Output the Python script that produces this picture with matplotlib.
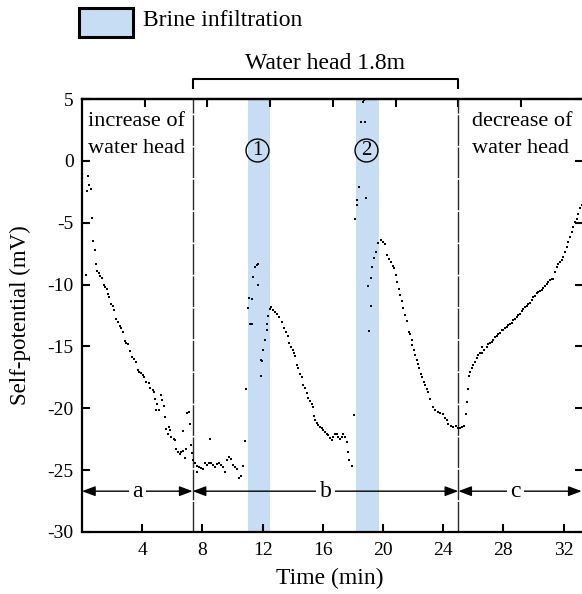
import matplotlib
matplotlib.use("Agg")
import matplotlib.pyplot as plt
from matplotlib.patches import Rectangle
import matplotlib.transforms as mtransforms

plt.rcParams['font.family'] = ['Liberation Serif', 'DejaVu Serif']
plt.rcParams['axes.unicode_minus'] = False

# ---------------- data ----------------
# stage a: increase of water head
a_t = [0.33, 0.40, 0.49, 0.58, 0.66, 0.27, 0.75, 0.84, 0.91, 1.00, 1.11, 1.22, 1.31, 1.44, 1.55,
       1.68, 1.75, 1.82, 1.95, 2.06, 2.15, 2.28, 2.39, 2.50, 2.61, 2.72, 2.83, 2.94, 3.06, 3.21,
       3.34, 3.46, 3.59, 3.70, 3.81, 3.92, 4.05, 4.14, 4.27, 4.43, 4.52, 4.70, 4.76, 4.85, 4.98,
       4.92, 5.10, 5.27, 5.32, 5.43, 5.49, 5.58, 5.76, 5.83, 5.69, 5.93, 6.09, 6.16, 6.27, 6.38,
       6.49, 6.60, 6.71, 6.82, 6.91, 6.73, 7.00, 7.09, 7.15, 7.24, 7.31]
a_v = [-2.45, -1.24, -1.94, -2.31, -4.60, -9.20, -6.47, -7.20, -8.35, -8.90, -9.10, -9.30, -9.43, -10.07, -10.19,
       -10.35, -10.78, -11.04, -11.58, -11.77, -12.07, -12.82, -13.06, -13.31, -13.55, -13.85, -14.58, -14.71, -14.84, -15.36,
       -15.84, -16.03, -16.22, -16.92, -17.03, -17.14, -17.27, -17.46, -17.84, -17.95, -18.38, -18.54, -18.72, -19.24, -19.69,
       -20.10, -20.15, -18.92, -19.35, -19.83, -20.70, -21.70, -21.50, -21.77, -22.09, -22.31, -22.52, -22.58, -23.28, -23.52,
       -23.71, -23.55, -23.44, -24.00, -23.28, -21.83, -20.42, -20.32, -21.26, -23.00, -23.60]

# stage b: constant water head 1.8 m (with two brine infiltrations)
b_t = [7.40, 7.49, 7.62, 7.75, 7.89, 8.02, 7.66, 8.15, 8.29, 8.42, 8.55, 8.68, 8.82, 8.95, 9.08,
       9.22, 9.35, 9.48, 9.61, 9.75, 9.88, 10.01, 10.15, 10.28, 10.41, 10.55, 10.68, 8.50, 10.81,
       10.90, 11.01, 11.16, 11.27, 11.11, 11.28, 11.38, 11.51, 11.60, 11.67, 11.71, 11.87, 11.98, 11.91, 12.04,
       12.18, 12.27, 12.31, 12.38, 12.49, 12.58, 12.71, 12.84, 12.98, 13.11, 13.27, 13.42, 13.55, 13.69,
       13.77, 13.89, 14.00, 14.09, 14.17, 14.27, 14.37, 14.49, 14.60, 14.70, 14.82, 14.93, 15.04, 15.15,
       15.26, 15.33, 15.42, 15.50, 15.59, 15.70, 15.81, 15.93, 16.03, 16.15, 16.26, 16.37, 16.48, 16.59,
       16.70, 16.81, 16.92, 17.03, 17.14, 17.25, 17.36, 17.48, 17.59, 17.67, 17.76, 17.92,
       18.10, 18.14, 18.25, 18.29, 18.43, 18.87, 18.57, 18.79, 18.65, 18.74, 19.09, 19.18, 19.03, 19.20,
       19.29, 19.40, 19.53, 19.69, 19.85, 19.98, 20.11, 20.24, 20.38, 20.51, 20.64, 20.75, 20.86, 20.95,
       21.04, 21.13, 21.24, 21.35, 21.46, 21.57,
       21.73, 21.80, 21.91, 21.95, 22.04, 22.13, 22.24, 22.31, 22.39, 22.53, 22.62, 22.70, 22.79, 22.90,
       23.02, 23.13, 23.35, 23.46, 23.64, 23.79, 24.01, 24.12, 24.23, 24.34, 24.52, 24.68, 24.83, 24.96]
b_v = [-24.20, -24.46, -24.68, -24.74, -24.79, -24.87, -25.14, -24.46, -24.60, -24.46, -24.41, -24.60, -24.74, -24.52, -24.41,
       -24.60, -24.74, -25.14, -24.20, -23.93, -24.06, -24.60, -24.74, -24.87, -25.67, -25.49, -24.68, -22.52, -22.64,
       -18.48, -11.93, -13.20, -13.20, -11.12, -11.20, -9.38, -8.57, -8.41, -8.35, -10.05, -16.11, -16.19, -17.40, -15.25,
       -14.50, -13.69, -13.15, -12.55, -12.01, -11.80, -12.07, -12.23, -12.39, -12.61, -13.02, -13.47, -13.82, -14.17,
       -14.76, -15.04, -15.30, -15.57, -15.79, -16.52, -16.78, -17.19, -17.51, -18.13, -18.40, -18.80, -19.13, -19.40,
       -19.67, -19.89, -20.64, -20.96, -21.17, -21.37, -21.50, -21.63, -21.77, -21.91, -22.04, -22.17, -22.44, -22.58,
       -22.31, -22.09, -22.04, -22.36, -22.52, -22.31, -22.09, -22.31, -22.71, -23.52, -24.20, -24.68,
       -20.58, -4.71, -3.58, -3.18, -2.10, -3.04, 3.15, 3.18, 4.72, 4.90, -13.77, -11.72, -10.10, -9.46,
       -8.57, -7.89, -7.36, -6.68, -6.41, -6.55, -6.76, -7.57, -7.95, -8.16, -8.49, -8.65, -9.24, -9.78,
       -10.32, -10.86, -11.34, -11.93, -12.47, -12.96,
       -13.82, -14.01, -14.50, -14.90, -15.31, -15.71, -16.12, -16.39, -16.71, -17.19, -17.46, -17.87, -18.14, -18.41,
       -18.68, -19.21, -19.89, -20.16, -20.29, -20.37, -20.43, -20.75, -20.97, -21.24, -21.45, -21.51, -21.42, -21.56]

# stage c: decrease of water head
c_t = [25.12, 25.27, 25.41, 25.50, 25.56, 25.63, 25.71, 25.80, 25.89, 26.00, 26.11, 26.23, 26.33, 26.45, 26.56,
       26.60, 26.73, 26.88, 26.99, 27.11, 27.22, 27.33, 27.44, 27.55, 27.66, 27.77, 27.88, 27.99, 28.10, 28.21,
       28.32, 28.43, 28.55, 28.66, 28.77, 28.88, 28.99, 29.10, 29.21, 29.32, 29.43, 29.54, 29.65, 29.76, 29.87,
       29.99, 30.10, 30.21, 30.32, 30.43, 30.54, 30.65, 30.76, 30.87, 30.98, 31.09, 31.20, 31.31, 31.43, 31.54,
       31.65, 31.76, 31.87, 31.98, 32.09, 32.20, 32.31, 32.42, 32.53, 32.64, 32.75, 32.86, 32.97, 33.09, 33.20]
c_v = [-21.59, -21.51, -21.40, -20.43, -19.48, -18.41, -17.40, -17.06, -16.78, -16.52, -16.25, -15.97, -15.71, -15.52, -15.04,
       -15.57, -15.31, -15.04, -14.82, -14.71, -14.63, -14.44, -14.23, -14.17, -14.01, -13.90, -13.69, -13.64, -13.47, -13.42,
       -13.28, -13.15, -13.10, -12.88, -12.75, -12.61, -12.48, -12.34, -12.13, -11.94, -11.80, -11.75, -11.59, -11.48, -11.26,
       -10.99, -10.94, -10.72, -10.59, -10.51, -10.40, -10.27, -10.13, -9.97, -9.78, -9.65, -9.59, -9.51, -8.97, -8.62,
       -8.35, -8.16, -8.03, -7.76, -7.36, -6.95, -6.55, -6.14, -5.74, -5.33, -4.93, -4.66, -4.26, -3.85, -3.58]

brine_bands = [(11.0, 12.5), (18.2, 19.7)]
brine_marks = ['1', '2']
stage_bounds = [0.0, 7.35, 25.0, 33.2]
stage_names = ['a', 'b', 'c']
x_ticks = [4, 8, 12, 16, 20, 24, 28, 32]
y_ticks = [-30, -25, -20, -15, -10, -5, 0, 5]
top_ticks_sec = [250, 500, 750, 1000, 1250, 1500, 1750, 2000]

# ---------------- figure ----------------
W, H = 582, 594
fig = plt.figure(figsize=(W / 100, H / 100), dpi=100)
ax = fig.add_axes([82 / W, 62 / H, 501.2 / W, 433 / H])
ax.set_xlim(0, 33.3)
ax.set_ylim(-30, 5)

band_color = '#c6ddf4'
for (x0, x1) in brine_bands:
    ax.axvspan(x0, x1, color=band_color, lw=0, zorder=0)

for xv in stage_bounds[1:3]:
    ax.axvline(xv, color='#2a2a2a', lw=1.0, dashes=(22, 1.2), zorder=1)

ms = 1.7
for t, v in [(a_t, a_v), (b_t, b_v), (c_t, c_v)]:
    ax.plot(t, v, 's', ms=ms, color='k', mew=0, zorder=3)

# stage arrows
arrow_y = -26.7
for i, name in enumerate(stage_names):
    x0, x1 = stage_bounds[i], stage_bounds[i + 1]
    ax.annotate('', xy=(x1, arrow_y), xytext=(x0, arrow_y),
                arrowprops=dict(arrowstyle='<|-|>,head_length=0.8,head_width=0.3',
                                color='k', lw=1.0, shrinkA=0, shrinkB=0), zorder=4)
    ax.text((x0 + x1) / 2 - (0.3 if name == 'c' else 0.0), arrow_y, name, ha='center', va='center', fontsize=17,
            bbox=dict(boxstyle='square,pad=0.15', fc='white', ec='none'), zorder=5)

# circled marks
for (x0, x1), m in zip(brine_bands, brine_marks):
    xc = (x0 + x1) / 2 + (-0.1 if m == '1' else -0.05)
    ax.plot([xc], [0.87], 'o', ms=16.5, mfc='none', mec='k', mew=1.0, zorder=4)
    ax.text(xc, 0.87, m, ha='center', va='center', fontsize=15, zorder=5)

# stage texts
ax.text(0.40, 2.81, 'increase of', fontsize=16, ha='left', va='baseline')
ax.text(0.40, 0.62, 'water head', fontsize=16, ha='left', va='baseline')
ax.text(25.9, 2.81, 'decrease of', fontsize=16, ha='left', va='baseline')
ax.text(25.9, 0.62, 'water head', fontsize=16, ha='left', va='baseline')

# top bracket
trans = mtransforms.blended_transform_factory(ax.transData, ax.transAxes)
ax.plot([stage_bounds[1], stage_bounds[1], stage_bounds[2], stage_bounds[2]],
        [1.025, 1.046, 1.046, 1.025], color='k', lw=1.5, transform=trans, clip_on=False)
ax.text((stage_bounds[1] + stage_bounds[2]) / 2, 1.083, 'Water head 1.8m', fontsize=17,
        ha='center', va='center', transform=trans)

# ticks
ax.set_xticks(x_ticks)
ax.set_yticks(y_ticks)
ax.tick_params(axis='both', direction='in', length=6, width=1.5, labelsize=14)
ax.tick_params(axis='y', right=True, pad=6)
ax.tick_params(axis='x', pad=7)
for s in ['left', 'bottom', 'top']:
    ax.spines[s].set_linewidth(1.6)
ax.spines['right'].set_visible(False)
sec = ax.secondary_xaxis('top', functions=(lambda m: m * 60, lambda s: s / 60))
sec.set_xticks(top_ticks_sec)
sec.set_xticklabels([])
sec.tick_params(direction='in', length=6, width=1.5)
sec.spines['top'].set_linewidth(1.6)

# axis labels
fig.text(330 / W, 1 - 578 / H, 'Time (min)', fontsize=17, ha='center', va='center')
fig.text(20 / W, 1 - 315 / H, 'Self-potential (mV)', fontsize=16.5, ha='center', va='center', rotation=90)

# legend
fig.patches.append(Rectangle((79 / W, 1 - 37 / H), 54 / W, 29 / H, transform=fig.transFigure,
                             facecolor=band_color, edgecolor='k', lw=2.2))
fig.text(143 / W, 1 - 21 / H, 'Brine infiltration', fontsize=17, ha='left', va='center')

fig.savefig('out.png', dpi=100)
